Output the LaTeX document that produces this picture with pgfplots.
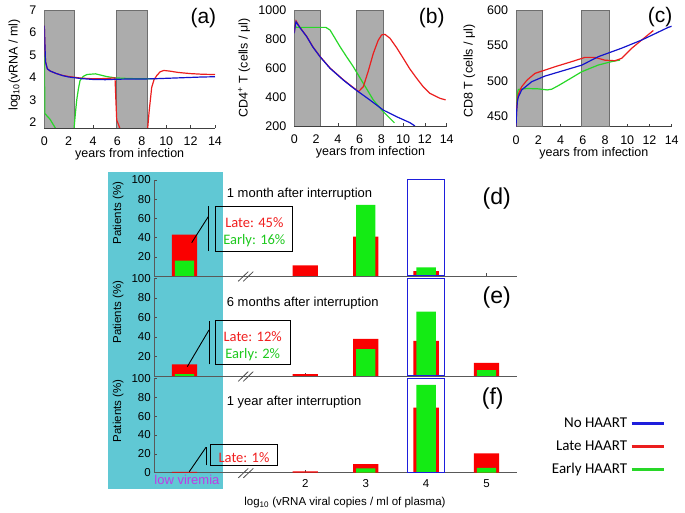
\documentclass[border=0pt]{standalone}
\usepackage{fontspec}
\setmainfont{Liberation Sans}
\newfontfamily\carlito{Carlito}
\usepackage{pgfplots}
\pgfplotsset{compat=1.18}
\newcommand{\fs}[1]{\fontsize{#1bp}{#1bp}\selectfont}
\definecolor{cblue}{RGB}{20,20,205}
\definecolor{cred}{RGB}{235,30,30}
\definecolor{cgreen}{RGB}{40,215,40}
\definecolor{bred}{RGB}{250,0,0}
\definecolor{bgreen}{RGB}{20,235,20}
\definecolor{lblue}{RGB}{30,30,220}
\definecolor{cyanband}{RGB}{96,200,212}
\definecolor{bandgray}{RGB}{172,172,172}
\definecolor{bandedge}{RGB}{110,110,110}
\definecolor{annred}{RGB}{240,30,30}
\definecolor{anngreen}{RGB}{30,200,30}
\definecolor{viol}{RGB}{190,60,230}
\pgfplotsset{
  topax/.style={
    scale only axis, anchor=south west,
    axis lines*=left, axis line style={black!75,-},
    tick align=inside, major tick length=2.5bp, tick style={black!75, line width=0.5bp},
    xmin=0, xmax=14, xtick={0,2,...,14},
    tick label style={font=\fs{12.5}},
    /pgf/number format/assume math mode=true,
    /pgf/number format/1000 sep={},
    xticklabel style={anchor=base, yshift=-17.5bp},
    yticklabel style={xshift=-4.5bp},
    label style={font=\fs{12.5}},
    xlabel={years from infection},
    xlabel style={at={(axis description cs:0.5,0)}, anchor=base, yshift=-30bp},
    ylabel style={anchor=base},
    clip mode=individual,
    every axis plot/.append style={line width=1.2bp},
  },
  band/.style={fill=bandgray, draw=bandedge, line width=0.6bp},
  lowax/.style={
    scale only axis, anchor=south west, width=362.4bp,
    xmin=-0.5, xmax=5.5, ymin=0, ymax=100,
    axis lines*=left, axis line style={black!65,-, line width=0.7bp},
    tick align=inside, major tick length=3bp, tick style={black!70, line width=0.5bp},
    xtick={2,3,4,5},
    tick label style={font=\fs{11.5}},
    /pgf/number format/assume math mode=true,
    xticklabel style={anchor=base, yshift=-14.6bp},
    label style={font=\fs{11.5}},
    ylabel={Patients (\%)},
    ylabel style={at={(axis description cs:-0.0913,0.655)}, anchor=base},
    clip=false,
  },
  redbar/.style={ybar, bar width=0.42, bar shift=0pt, fill=bred, draw=none, forget plot},
  greenbar/.style={ybar, bar width=0.32, bar shift=0pt, fill=bgreen, draw=none, forget plot},
  bluebox/.style={ybar, bar width=0.6, bar shift=0pt, fill=none, draw=lblue, line width=1bp, forget plot},
}
\begin{document}
\begin{tikzpicture}
\useasboundingbox (0,0) rectangle (685bp,513bp);
\fill[cyanband] (108bp,24bp) rectangle (222.7bp,341bp);

% ---------------- (a)
\begin{axis}[topax, at={(44.3bp,385bp)}, width=170.7bp, height=118bp,
  ymin=1.75, ymax=7, ytick={2,...,7},
  ylabel={log\textsubscript{10}(vRNA / ml)},
  ylabel style={at={(axis description cs:-0.157,0.534)}}]
\addplot[band] coordinates {(0,1.75) (0,7) (2.42,7) (2.42,1.75)} -- cycle;
\addplot[band] coordinates {(5.94,1.75) (5.94,7) (8.45,7) (8.45,1.75)} -- cycle;
\addplot[cgreen] coordinates {(0,5.0) (0.02,4.5) (0.04,2.4) (0.2,2.3) (0.47,2.14) (0.88,1.77) (1.1,1.5) (2.35,1.5) (2.44,1.73) (2.55,2.4) (2.66,3.0) (2.8,3.5) (2.93,3.86) (3.2,4.05) (3.5,4.13) (4.2,4.16) (5.1,4.04) (5.8,3.98) (7,3.95) (8,3.94) (9,3.94)};
\addplot[cred] coordinates {(0,6.3) (0.04,5.6) (0.1,4.7) (0.25,4.38) (0.5,4.28) (1,4.17) (1.5,4.09) (2,4.04) (3,3.97) (4,3.94) (5,3.95) (5.8,3.98) (5.87,3.0) (5.94,2.1) (6.05,1.95) (6.2,1.73) (6.4,1.5) (8.3,1.5) (8.48,1.74) (8.6,2.5) (8.81,3.56) (9.0,3.9) (9.22,4.08) (9.5,4.25) (9.8,4.31) (10.3,4.28) (11,4.22) (12,4.17) (13,4.14) (14,4.13)};
\addplot[cblue] coordinates {(0,6.3) (0.04,5.6) (0.1,4.7) (0.25,4.38) (0.5,4.28) (1,4.17) (1.5,4.08) (2,4.02) (3,3.95) (4,3.91) (5,3.9) (6,3.92) (7,3.93) (8,3.93) (9,3.94) (10,3.96) (11,3.98) (12,4.0) (13,4.02) (14,4.03)};
\node[font=\fs{21}] at (axis description cs:0.932,0.93) {(a)};
\end{axis}

% ---------------- (b)
\begin{axis}[topax, at={(294.3bp,387bp)}, width=152.4bp, height=116bp,
  ymin=200, ymax=1000, ytick={200,400,...,1000},
  ylabel={CD4\textsuperscript{+} T (cells / μl)},
  ylabel style={at={(axis description cs:-0.307,0.5)}}]
\addplot[band] coordinates {(0,200) (0,1000) (2.36,1000) (2.36,200)} -- cycle;
\addplot[band] coordinates {(5.72,200) (5.72,1000) (8.15,1000) (8.15,200)} -- cycle;
\addplot[cgreen] coordinates {(0,895) (0.2,880) (1,880) (2,880) (2.9,880) (3.28,862) (3.7,810) (4.2,747) (4.8,678) (5.42,609) (6.34,494) (7.26,379) (8.17,299) (9.09,230) (9.2,222)};
\addplot[cred] coordinates {(0,845) (0.08,900) (0.16,925) (0.5,882) (1.14,818) (1.7,747) (2.36,680) (3.28,600) (4.5,519) (5.2,478) (5.82,442) (5.9,437) (6.34,471) (6.8,580) (7.26,701) (7.7,790) (8.02,828) (8.33,832) (8.79,805) (9.4,740) (10.01,667) (10.6,595) (11.24,529) (11.85,470) (12.46,425) (13.38,391) (13.9,380)};
\addplot[cblue] coordinates {(0,840) (0.08,890) (0.16,918) (0.5,880) (1.14,816) (1.7,745) (2.36,678) (3.28,598) (4.5,517) (5.2,475) (5.82,440) (6.95,379) (8.17,310) (9.4,264) (10.62,223) (11.08,200)};
\node[font=\fs{21}] at (axis description cs:0.902,0.928) {(b)};
\end{axis}

% ---------------- (c)
\begin{axis}[topax, at={(516bp,386.3bp)}, width=155.7bp, height=116.7bp,
  ymin=435, ymax=600, ytick={450,500,550,600},
  ylabel={CD8 T (cells / μl)},
  ylabel style={at={(axis description cs:-0.279,0.477)}}]
\addplot[band] coordinates {(0,435) (0,600) (2.4,600) (2.4,435)} -- cycle;
\addplot[band] coordinates {(5.85,435) (5.85,600) (8.36,600) (8.36,435)} -- cycle;
\addplot[cgreen] coordinates {(0,435) (0.05,465) (0.12,482) (0.21,487.7) (1,489) (2,488.5) (2.8,487) (3.21,488) (3.8,493) (4.41,498.6) (5.91,512.7) (7.4,522.2) (8.6,527) (9.35,529.2)};
\addplot[cred] coordinates {(0,435) (0.05,458) (0.12,474) (0.21,481) (0.51,491.5) (1.0,501) (1.71,510.4) (3.51,519.8) (5.01,527) (6.2,533) (7.1,533) (8.0,529) (8.9,528.3) (9.5,531.6) (10.4,545.8) (11.3,557.5) (12.35,571)};
\addplot[cblue] coordinates {(0,435) (0.05,455) (0.12,470) (0.21,477) (0.51,487) (1.41,498.6) (2.61,506.6) (4.41,515) (5.91,522) (7.4,534) (9.5,546) (11.3,557.5) (13.7,575.5) (14,577)};
\node[font=\fs{21}] at (axis description cs:0.925,0.943) {(c)};
\end{axis}

% ---------------- (d)
\begin{axis}[lowax, at={(154.3bp,237bp)}, height=96bp,
  ytick={20,40,...,100}, xticklabels={}]
\addplot[redbar] coordinates {(0,43) (2,11) (3,41) (4,5)};
\addplot[greenbar] coordinates {(0,16) (3,74) (4,9)};
\addplot[bluebox] coordinates {(4,100)};
\node[anchor=west, inner sep=0pt, font=\fs{13}] at (axis cs:0.699,85.4) {1 month after interruption};
\node[font=\fs{23}] at (axis description cs:0.945,0.81) {(d)};
\draw[black, line width=0.9bp] (axis cs:0.517,26.0) rectangle (axis cs:1.793,72.2);
\draw[black, line width=0.9bp] (axis cs:0.394,26) -- (axis cs:0.394,72.6);
\draw[black, line width=0.9bp] (axis cs:0.119,34.7) -- (axis cs:0.394,61.8);
\node[font=\carlito\fs{14.5}, text=annred] at (axis cs:1.156,55.5) {Late: 45\%};
\node[font=\carlito\fs{14.5}, text=anngreen] at (axis cs:1.156,36.8) {Early: 16\%};
\draw[black!70, line width=0.8bp] (axis cs:0.89,-5.5) -- (axis cs:1.055,4.5);
\draw[black!70, line width=0.8bp] (axis cs:0.973,-5.5) -- (axis cs:1.138,4.5);
\end{axis}

% ---------------- (e)
\begin{axis}[lowax, at={(154.3bp,137bp)}, height=97.7bp,
  ytick={20,40,...,100}, xticklabels={}]
\addplot[redbar] coordinates {(0,12) (2,2) (3,38) (4,36) (5,13.5)};
\addplot[greenbar] coordinates {(0,2) (3,27.5) (4,66) (5,6)};
\addplot[bluebox] coordinates {(4,100)};
\node[anchor=west, inner sep=0pt, font=\fs{13}] at (axis cs:0.699,74.4) {6 months after interruption};
\node[font=\fs{23}] at (axis description cs:0.945,0.798) {(e)};
\draw[black, line width=0.9bp] (axis cs:0.505,12.0) rectangle (axis cs:1.758,57.3);
\draw[black, line width=0.9bp] (axis cs:0.406,12.0) -- (axis cs:0.406,56.6);
\draw[black, line width=0.9bp] (axis cs:0.046,9.5) -- (axis cs:0.406,47.1);
\node[font=\carlito\fs{14.5}, text=annred] at (axis cs:1.129,40.2) {Late: 12\%};
\node[font=\carlito\fs{14.5}, text=anngreen] at (axis cs:1.129,21.5) {Early: 2\%};
\draw[black!70, line width=0.8bp] (axis cs:0.89,-5.5) -- (axis cs:1.055,4.5);
\draw[black!70, line width=0.8bp] (axis cs:0.973,-5.5) -- (axis cs:1.138,4.5);
\end{axis}

% ---------------- (f)
\begin{axis}[lowax, at={(154.3bp,40.3bp)}, height=94.4bp,
  ytick={0,20,...,100},
  xlabel={log\textsubscript{10} (vRNA viral copies / ml of plasma)},
  xlabel style={at={(axis description cs:0.526,0)}, anchor=base, yshift=-32.7bp},
  legend plot pos=right, legend cell align=right,
  legend image code/.code={\draw[#1, line width=3bp] (0bp,0bp) -- (32bp,0bp);},
  legend style={at={(axis description cs:1.41,0.60)}, anchor=north east, draw=none, fill=none,
     font=\carlito\fs{15}, row sep=7.5bp, column sep=1bp, inner sep=0pt}]
\addplot[redbar] coordinates {(0,0.8) (2,1.5) (3,9) (4,69) (5,20.5)};
\addplot[greenbar] coordinates {(3,4.5) (4,93) (5,5)};
\addplot[bluebox] coordinates {(4,100)};
\node[anchor=west, inner sep=0pt, font=\fs{13}] at (axis cs:0.699,74.6) {1 year after interruption};
\node[font=\fs{23}] at (axis description cs:0.934,0.788) {(f)};
\draw[black, line width=0.9bp] (axis cs:0.422,7.4) rectangle (axis cs:1.536,30.4);
\draw[black, line width=0.9bp] (axis cs:0.356,7.8) -- (axis cs:0.356,26.9);
\draw[black, line width=0.9bp] (axis cs:0.079,1.06) -- (axis cs:0.356,26.9);
\node[font=\carlito\fs{14.5}, text=annred] at (axis cs:0.985,16.3) {Late: 1\%};
\draw[black!70, line width=0.8bp] (axis cs:0.89,-5.5) -- (axis cs:1.055,4.5);
\draw[black!70, line width=0.8bp] (axis cs:0.973,-5.5) -- (axis cs:1.138,4.5);
\node[anchor=base, font=\fs{13}, text=viol] at (axis cs:0.04,0) [yshift=-12.3bp] {low viremia};
\addlegendimage{lblue}
\addlegendentry{No HAART}
\addlegendimage{cred}
\addlegendentry{Late HAART}
\addlegendimage{cgreen}
\addlegendentry{Early HAART}
\end{axis}
\end{tikzpicture}
\end{document}
